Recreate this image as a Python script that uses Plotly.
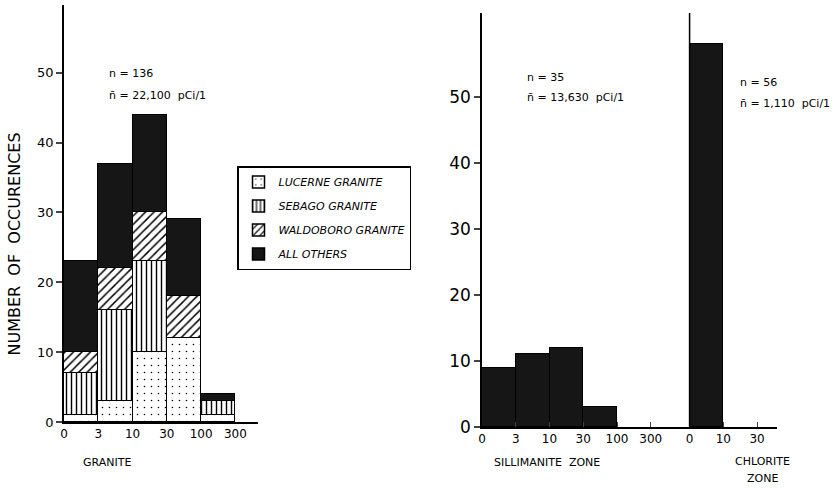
import plotly.graph_objects as go

# ---- data ----
granite_bins = ["0", "3", "10", "30", "100", "300"]
lucerne = [1, 3, 10, 12, 1]
sebago = [6, 13, 13, None, 2]
waldoboro = [3, 6, 7, 6, None]
all_others = [13, 15, 14, 11, 1]

sill_bins = ["0", "3", "10", "30", "100", "300"]
sillimanite = [9, 11, 12, 3]
chlorite_bins = ["0", "10", "30"]
chlorite = [58]

W, H = 838, 488
def px(x): return x / W
def py(y): return 1 - y / H

fig = go.Figure()
centers = [i + 0.5 for i in range(len(lucerne))]
line = dict(color="black", width=1.5)
series = [
    ("LUCERNE GRANITE", lucerne, dict(shape=".", size=7, solidity=0.04, fgcolor="black", bgcolor="white")),
    ("SEBAGO GRANITE", sebago, dict(shape="|", size=5, solidity=0.28, fgcolor="black", bgcolor="white")),
    ("WALDOBORO GRANITE", waldoboro, dict(shape="/", size=6, solidity=0.25, fgcolor="black", bgcolor="white")),
]
for name, vals, pat in series:
    fig.add_trace(go.Bar(x=centers, y=vals, width=1, name=name, legendgroup=name, xaxis="x", yaxis="y",
                         marker=dict(color="white", pattern=pat, line=line)))
fig.add_trace(go.Bar(x=centers, y=all_others, width=1, name="ALL OTHERS", legendgroup="others",
                     xaxis="x", yaxis="y", marker=dict(color="#161616", line=line)))

# right panel
fig.add_trace(go.Bar(x=[i + 0.5 for i in range(len(sillimanite))], y=sillimanite, width=1,
                     xaxis="x2", yaxis="y2", showlegend=False,
                     marker=dict(color="#161616", line=line)))
ch0 = 6.15
fig.add_trace(go.Bar(x=[ch0 + 0.5], y=chlorite, width=1, xaxis="x2", yaxis="y2", showlegend=False,
                     marker=dict(color="#161616", line=line)))

tfont = dict(family="DejaVu Sans", size=11, color="black")
common = dict(showline=True, linecolor="black", linewidth=1.5, showgrid=False, zeroline=False,
              automargin=False)
fig.update_layout(
    template="none",
    width=W, height=H, autosize=False, margin=dict(l=0, r=0, t=0, b=0, pad=0),
    paper_bgcolor="white", plot_bgcolor="white",
    barmode="stack", bargap=0,
    font=dict(family="DejaVu Sans", color="black"),
    xaxis=dict(domain=[px(64), px(258)], range=[0, 5.66], tickmode="array",
               tickvals=list(range(len(granite_bins))), ticktext=granite_bins,
               ticks="", tickfont=dict(size=12), anchor="y", **common),
    yaxis=dict(domain=[py(422), py(5)], range=[0, 59.7], tickvals=[0, 10, 20, 30, 40, 50],
               ticks="outside", ticklen=6, tickwidth=1.5, tickfont=dict(size=13), anchor="x", **common),
    xaxis2=dict(domain=[px(482), px(777)], range=[0, 8.74], tickmode="array",
                tickvals=[0, 1, 2, 3, 4, 5, ch0, ch0 + 1, ch0 + 2],
                ticktext=sill_bins + chlorite_bins,
                ticks="inside", ticklen=5, tickwidth=1.2, tickfont=dict(size=12), anchor="y2", **common),
    yaxis2=dict(domain=[py(427), py(13)], range=[0, 62.7], tickvals=[0, 10, 20, 30, 40, 50],
                ticks="outside", ticklen=6, tickwidth=1.5, tickfont=dict(size=17), anchor="x2", **common),
    legend=dict(x=px(237), y=py(166), xanchor="left", yanchor="top", traceorder="grouped",
                bordercolor="black", borderwidth=1.5, bgcolor="white",
                font=dict(family="DejaVu Sans", size=11, style="italic"),
                itemwidth=30, tracegroupgap=5),
    shapes=[dict(type="line", xref="x2", yref="y2", x0=ch0, x1=ch0, y0=0, y1=62.7,
                 line=dict(color="black", width=1.5))],
)

ann = [
    ("n = 136", 107, 73, "left"),
    ("n\u0304 = 22,100  pCi/1", 107, 95, "left"),
    ("n = 35", 525, 77, "left"),
    ("n\u0304 = 13,630  pCi/1", 525, 98, "left"),
    ("n = 56", 738, 82, "left"),
    ("n\u0304 = 1,110  pCi/1", 738, 103, "left"),
    ("GRANITE", 107, 462, "center"),
    ("SILLIMANITE  ZONE", 547, 462, "center"),
    ("CHLORITE", 762, 461, "center"),
    ("ZONE", 762, 478, "center"),
]
for text, x, y, al in ann:
    fig.add_annotation(text=text, x=px(x), y=py(y), xref="paper", yref="paper",
                       xanchor=al, yanchor="middle", showarrow=False, font=tfont)
fig.add_annotation(text="NUMBER  OF  OCCURENCES", x=px(2), y=py(244), xref="paper", yref="paper",
                   textangle=-90, showarrow=False, font=dict(family="DejaVu Sans", size=16, color="black"))

fig.write_html("out.html", config={"displayModeBar": False, "responsive": False},
               post_script="document.body.style.margin='0';document.body.style.overflow='hidden';")
